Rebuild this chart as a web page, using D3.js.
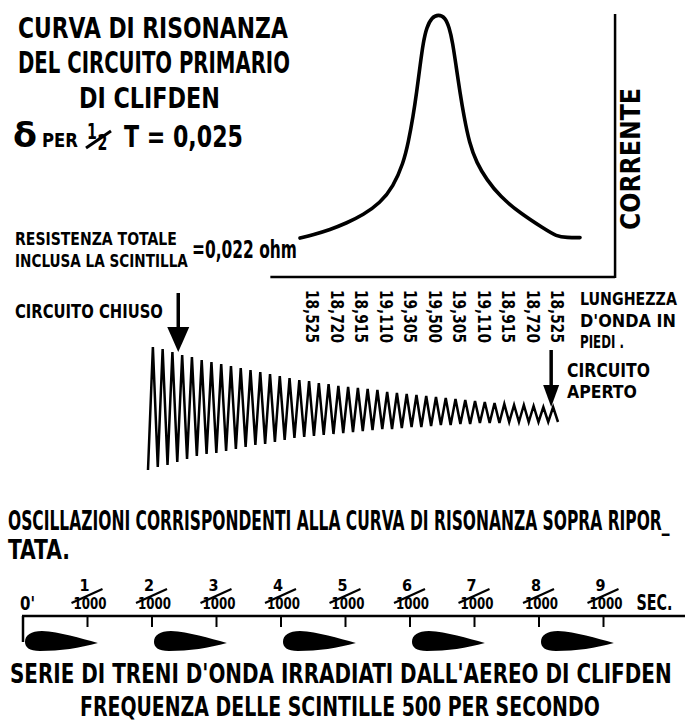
<!DOCTYPE html>
<html>
<head>
<meta charset="utf-8">
<script src="https://cdn.jsdelivr.net/npm/d3@7/dist/d3.min.js"></script>
<style>
  html, body { margin: 0; padding: 0; background: #fff; }
  svg { display: block; }
  text { font-family: "DejaVu Sans Condensed", "Liberation Sans Narrow", "DejaVu Sans", sans-serif; font-weight: bold; fill: #000; }
</style>
</head>
<body>
<script>
// ---------------- DATA ----------------
// Resonance curve: x axis labels (wavelength in feet), curve samples (position in label-index units, current)
const waveLabels = ["18,525","18,720","18,915","19,110","19,305","19,500","19,305","19,110","18,915","18,720","18,525"];
const curvePos     = [-0.49, 0.05, 0.73, 1.42, 2.09, 2.78, 3.32, 3.73, 3.93, 4.13, 4.27, 4.41, 4.54, 4.68, 4.89, 5.16, 5.43, 5.60, 5.74, 5.88, 6.04, 6.20, 6.42, 6.72, 7.13, 7.67, 8.49, 9.44, 9.99, 10.40, 10.94];
const curveCurrent = [14.9, 16.2, 18.1, 20.7, 23.8, 28.3, 34.7, 43.7, 51.4, 61.7, 70.7, 80.9, 89.9, 95.7, 99.5, 100.6, 99.5, 95.7, 89.9, 80.9, 70.7, 61.7, 51.4, 43.7, 37.3, 30.9, 24.5, 18.7, 15.5, 15.1, 15.1];

// Damped oscillation: crest and trough amplitudes of each cycle
const oscPeaks   = [63, 61, 58, 55, 53, 50, 48, 46, 44, 42, 40, 38, 36, 34, 32, 30, 29, 27, 26, 24, 23, 22, 21, 20, 18, 17, 16, 15, 14, 13, 12, 11, 10, 9, 8, 7, 6, 5, 5, 4, 3, 3];
const oscTroughs = [-60, -57, -55, -52, -49, -46, -44, -43, -41, -39, -37, -35, -34, -32, -30, -28, -27, -26, -25, -24, -23, -22, -21, -20, -19, -19, -18, -17, -17, -16, -15, -15, -14, -14, -13, -13, -13, -12, -12, -12, -12, -12];
const oscClosedAt = 3.1;   // cycle where circuit closes
const oscOpenAt   = 41.3;  // cycle where circuit opens

// Time scale (thousandths of a second) and wave trains
const timeTicks = [1, 2, 3, 4, 5, 6, 7, 8, 9];
const sparkTimes = [0, 2, 4, 6, 8];
const trainDuration = 1.13;

// ---------------- DRAW ----------------
const W = 685, H = 726;
const svg = d3.select("body").append("svg").attr("width", W).attr("height", H);
svg.append("rect").attr("width", W).attr("height", H).attr("fill", "#fff");

// Text whose width is fitted with a horizontal scale (keeps real text)
function label(x, y, str, size, len, opts) {
  opts = opts || {};
  const g = svg.append("g");
  const t = g.append("text").attr("x", 0).attr("y", 0).attr("font-size", size).text(str);
  if (opts.anchor) t.attr("text-anchor", opts.anchor);
  const nat = t.node().getComputedTextLength();
  const sx = len ? len / nat : 1;
  g.attr("transform", `translate(${x},${y}) rotate(${opts.rotate || 0}) scale(${sx},1)`);
  return t;
}

// Title block
label(18, 38, "CURVA DI RISONANZA", 28, 270);
label(18, 73, "DEL CIRCUITO PRIMARIO", 30, 272);
label(79, 108, "DI CLIFDEN", 29, 141);
label(13, 147, "δ", 34, 24);
label(42, 147, "PER", 20, 36);
{
  const g = svg.append("g").attr("transform", "translate(87,139) scale(0.75,1)");
  const t = g.append("text").attr("font-size", 21);
  t.append("tspan").attr("x", 0).attr("y", 0).text("1");
  t.append("tspan").attr("x", 14).attr("y", 11).text("2");
}
svg.append("line").attr("x1", 86).attr("y1", 148).attr("x2", 111).attr("y2", 131).attr("stroke", "#000").attr("stroke-width", 3);
label(124, 147, "T = 0,025", 30, 119);

// Resistance note
label(15, 245, "RESISTENZA TOTALE", 18, 162);
label(15, 267, "INCLUSA LA SCINTILLA", 18, 173);
label(192, 258, "=0,022 ohm", 24, 105);

// Resonance curve
const x = d3.scaleLinear().domain([0, 10]).range([312, 557]);
const y = d3.scaleLinear().domain([0, 100]).range([277, 16]);
const axisXMin = -1.7, axisXMax = 12.37, axisYMax = 100.8;

svg.append("line").attr("x1", x(axisXMin)).attr("x2", x(axisXMax)).attr("y1", y(0)).attr("y2", y(0))
  .attr("stroke", "#000").attr("stroke-width", 2.5);
svg.append("line").attr("x1", x(axisXMax)).attr("x2", x(axisXMax)).attr("y1", y(0) + 1).attr("y2", y(axisYMax))
  .attr("stroke", "#000").attr("stroke-width", 2.5);

const curveData = curvePos.map((p, i) => ({ p, c: curveCurrent[i] }));
svg.append("path").datum(curveData)
  .attr("d", d3.line().x(d => x(d.p)).y(d => y(d.c)).curve(d3.curveBasis))
  .attr("fill", "none").attr("stroke", "#000").attr("stroke-width", 3.6).attr("stroke-linecap", "round").attr("stroke-linejoin", "round");

// CORRENTE axis title
label(x(axisXMax) + 25, 159, "CORRENTE", 26, 142, { anchor: "middle", rotate: -90 });

// Rotated wavelength labels
waveLabels.forEach((s, i) => {
  label(x(i) - 6, 290, s, 17, 53, { rotate: 90 });
});
label(580, 305, "LUNGHEZZA", 18, 97);
label(580, 327, "D'ONDA IN", 18, 96);
label(580, 348, "PIEDI .", 18, 44);

// Oscillation
const ox = d3.scaleLinear().domain([0, 42]).range([148, 558]);
const oy = d3.scaleLinear().domain([-60, 63]).range([470, 347]);
const oscPts = [];
oscPeaks.forEach((pk, i) => {
  oscPts.push([i, oscTroughs[i]]);
  oscPts.push([i + 0.5, pk]);
});
oscPts.push([42, oscTroughs[oscTroughs.length - 1]]);
svg.append("path").datum(oscPts)
  .attr("d", d3.line().x(d => ox(d[0])).y(d => oy(d[1])))
  .attr("fill", "none").attr("stroke", "#000").attr("stroke-width", 2.5).attr("stroke-linejoin", "miter");

function arrow(cx, yTop, yTip, headW, headH, sw) {
  svg.append("line").attr("x1", cx).attr("x2", cx).attr("y1", yTop).attr("y2", yTip - headH + 2)
    .attr("stroke", "#000").attr("stroke-width", sw);
  svg.append("path").attr("d", `M${cx - headW / 2},${yTip - headH} L${cx + headW / 2},${yTip - headH} L${cx},${yTip} Z`).attr("fill", "#000");
}
label(15, 318, "CIRCUITO CHIUSO", 20, 148);
arrow(ox(oscClosedAt), 293, 352, 22, 25, 3.5);
label(567, 377, "CIRCUITO", 19.5, 83);
label(567, 398, "APERTO", 18, 70);
arrow(ox(oscOpenAt), 350, 407, 16, 22, 3.5);

// Caption
label(8, 530, "OSCILLAZIONI CORRISPONDENTI ALLA CURVA DI RISONANZA SOPRA RIPOR_", 26, 662);
label(8, 559, "TATA.", 26, 62);

// Time scale
const t = d3.scaleLinear().domain([0, 10]).range([23, 668]);
const lineY = 616;
svg.append("line").attr("x1", t(0) - 1).attr("x2", W).attr("y1", lineY).attr("y2", lineY).attr("stroke", "#000").attr("stroke-width", 2.5);
svg.append("line").attr("x1", t(0)).attr("x2", t(0)).attr("y1", lineY).attr("y2", 642).attr("stroke", "#000").attr("stroke-width", 2.5);
timeTicks.forEach(k => {
  const tx = t(k);
  svg.append("line").attr("x1", tx).attr("x2", tx).attr("y1", lineY).attr("y2", 627).attr("stroke", "#000").attr("stroke-width", 2);
  label(tx - 3, 591, String(k), 16, null, { anchor: "middle" });
  svg.append("line").attr("x1", tx - 16).attr("y1", 603).attr("x2", tx + 15).attr("y2", 589).attr("stroke", "#000").attr("stroke-width", 2.2);
  label(tx - 14, 609, "1000", 15, 33);
});
label(t(0) - 3, 610, "0'", 20, 15);
label(t(9) + 33, 610, "SEC.", 22, 36);

// Wave trains (teardrops)
sparkTimes.forEach(s => {
  const x0 = t(s) + 2, L = t(s + trainDuration) - t(s), yc = 641;
  const p = d3.path();
  p.moveTo(x0, yc + 1);
  p.bezierCurveTo(x0, yc - 6, x0 + 6, yc - 10, x0 + 17, yc - 10);
  p.bezierCurveTo(x0 + 35, yc - 9, x0 + 55, yc - 3, x0 + L, yc + 2);
  p.bezierCurveTo(x0 + 55, yc + 7, x0 + 35, yc + 10, x0 + 15, yc + 10);
  p.bezierCurveTo(x0 + 4, yc + 10, x0, yc + 6, x0, yc + 1);
  p.closePath();
  svg.append("path").attr("d", p.toString()).attr("fill", "#000");
});

label(10, 683, "SERIE  DI TRENI D'ONDA IRRADIATI DALL'AEREO DI CLIFDEN", 27, 662);
label(80, 716, "FREQUENZA  DELLE  SCINTILLE 500 PER  SECONDO", 27, 520);
</script>
</body>
</html>
